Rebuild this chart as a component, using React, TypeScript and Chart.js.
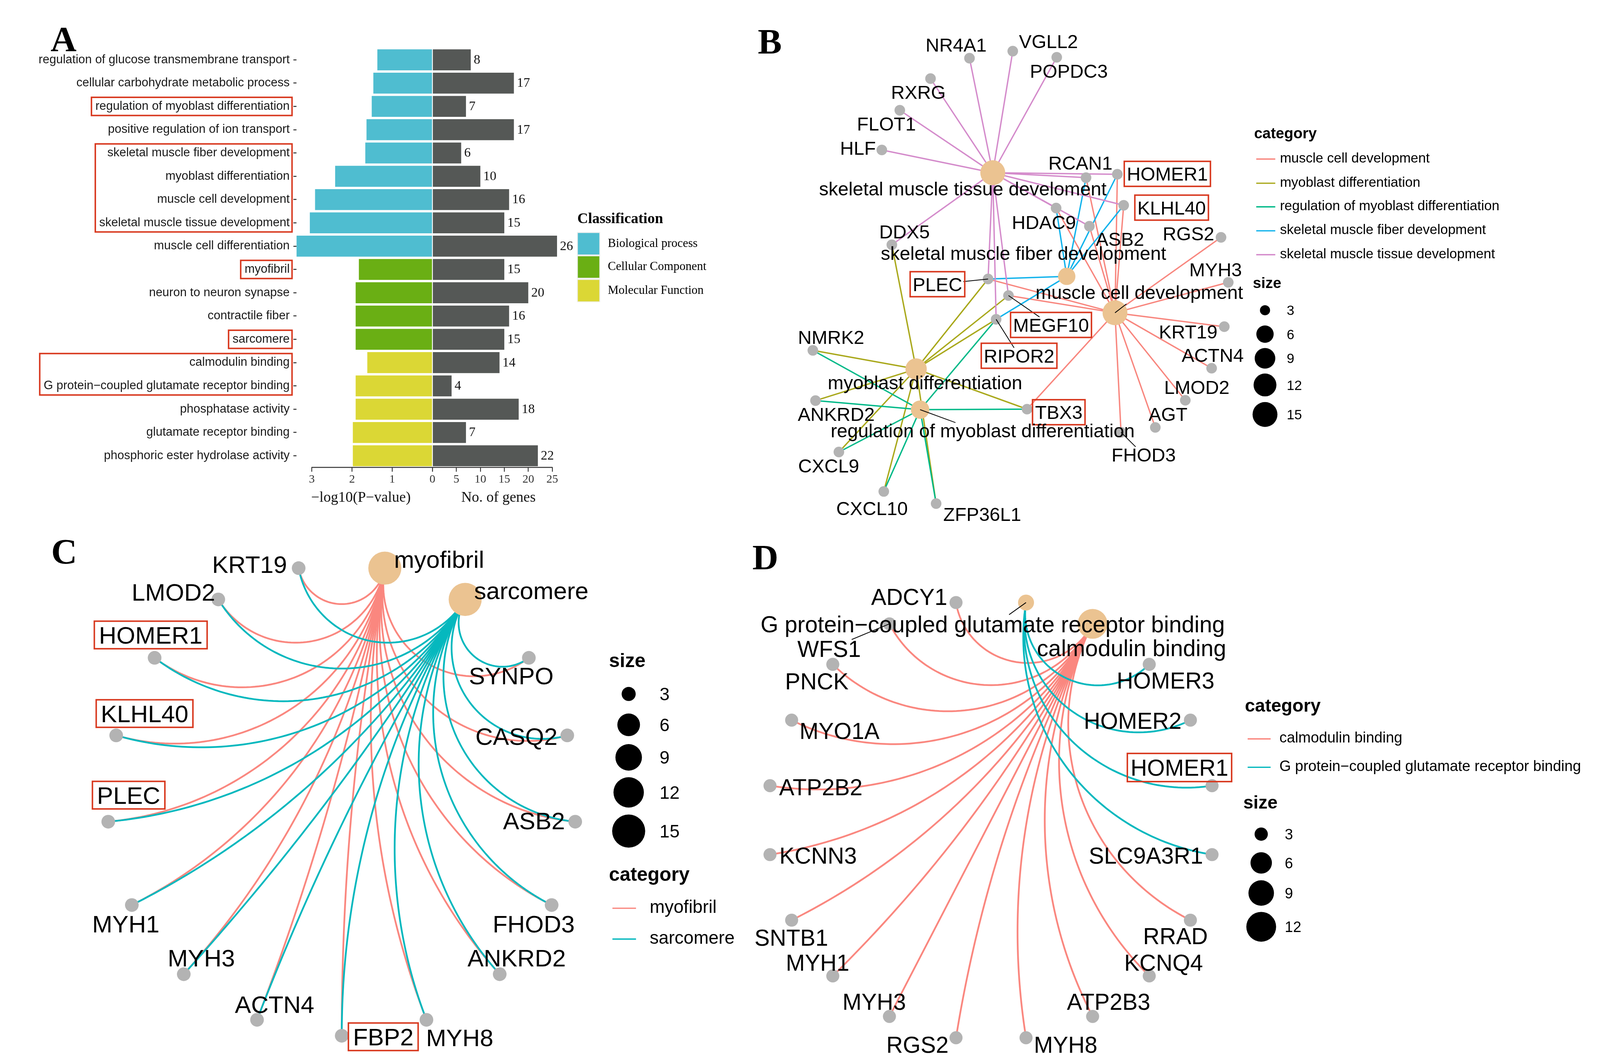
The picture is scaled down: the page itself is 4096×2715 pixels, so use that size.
import React, { useEffect, useRef } from 'react';
import { Chart, registerables } from 'chart.js';

Chart.register(...registerables);

/* ============================ DATA ============================ */

// ---- Panel A: GO enrichment (top to bottom) ----
const goTerms = [
  'regulation of glucose transmembrane transport',
  'cellular carbohydrate metabolic process',
  'regulation of myoblast differentiation',
  'positive regulation of ion transport',
  'skeletal muscle fiber development',
  'myoblast differentiation',
  'muscle cell development',
  'skeletal muscle tissue development',
  'muscle cell differentiation',
  'myofibril',
  'neuron to neuron synapse',
  'contractile fiber',
  'sarcomere',
  'calmodulin binding',
  'G protein\u2212coupled glutamate receptor binding',
  'phosphatase activity',
  'glutamate receptor binding',
  'phosphoric ester hydrolase activity',
];
const goClass = [0, 0, 0, 0, 0, 0, 0, 0, 0, 1, 1, 1, 1, 2, 2, 2, 2, 2];
const goLogP = [1.37, 1.47, 1.51, 1.64, 1.67, 2.42, 2.92, 3.05, 3.38, 1.83, 1.91, 1.91, 1.91, 1.62, 1.91, 1.91, 1.98, 1.98];
const goCount = [8, 17, 7, 17, 6, 10, 16, 15, 26, 15, 20, 16, 15, 14, 4, 18, 7, 22];
const classNames = ['Biological process', 'Cellular Component', 'Molecular Function'];
const boxedTermRanges = [[2, 2], [4, 7], [9, 9], [12, 12], [13, 14]];
const logPTicks = [0, 1, 2, 3];
const countTicks = [0, 5, 10, 15, 20, 25];

// ---- Panel B: gene-concept network (layout coordinates) ----
const bGenes = ['NR4A1', 'VGLL2', 'POPDC3', 'RXRG', 'FLOT1', 'HLF', 'RCAN1', 'HOMER1', 'KLHL40', 'HDAC9', 'ASB2', 'RGS2', 'DDX5', 'PLEC', 'MYH3', 'MEGF10', 'RIPOR2', 'KRT19', 'NMRK2', 'ACTN4', 'LMOD2', 'ANKRD2', 'TBX3', 'AGT', 'FHOD3', 'CXCL9', 'CXCL10', 'ZFP36L1'];
const bGeneX = [950.1, 992.5, 1035.6, 911.9, 881.8, 864.2, 1064.3, 1095, 1101.2, 1035, 1067.6, 1196.6, 874, 968.3, 1203.7, 988.3, 976.2, 1199.8, 796.6, 1187.4, 1161.6, 799.2, 1006.5, 1132.2, 1098.6, 822.1, 866.1, 917.4];
const bGeneY = [57, 50.1, 56.1, 77, 108, 146.9, 174, 170.7, 201.1, 203.8, 221.6, 232.5, 239.8, 273.3, 276.6, 289.5, 312.8, 320, 343.2, 360.7, 392.1, 392.4, 400.8, 418.7, 423.5, 442.8, 481.4, 493.3];
const bCategories = ['muscle cell development', 'myoblast differentiation', 'regulation of myoblast differentiation', 'skeletal muscle fiber development', 'skeletal muscle tissue development'];
const bCategoryNodeLabels = ['muscle cell development', 'myoblast differentiation', 'regulation of myoblast differentiation', 'skeletal muscle fiber development', 'skeletal muscle tissue develoment'];
const bCategorySizes = [16, 10, 7, 6, 15];
const bCategoryX = [1092.7, 897.8, 901.7, 1045.4, 972.9];
const bCategoryY = [306.4, 361.5, 401.3, 270.7, 169.2];
const bMuscleCellDevGenes = ['RGS2', 'MYH3', 'KRT19', 'ACTN4', 'LMOD2', 'AGT', 'FHOD3', 'TBX3', 'PLEC', 'MEGF10', 'RCAN1', 'HOMER1', 'KLHL40', 'HDAC9', 'ASB2'];
const bMyoblastDiffGenes = ['NMRK2', 'ANKRD2', 'TBX3', 'CXCL9', 'CXCL10', 'ZFP36L1', 'DDX5', 'PLEC', 'MEGF10', 'RIPOR2'];
const bRegMyoblastDiffGenes = ['NMRK2', 'ANKRD2', 'TBX3', 'CXCL9', 'CXCL10', 'ZFP36L1', 'RIPOR2'];
const bFiberDevGenes = ['PLEC', 'RCAN1', 'HOMER1', 'KLHL40', 'HDAC9', 'RIPOR2'];
const bTissueDevGenes = ['NR4A1', 'VGLL2', 'POPDC3', 'RXRG', 'FLOT1', 'HLF', 'RCAN1', 'HOMER1', 'KLHL40', 'HDAC9', 'ASB2', 'DDX5', 'PLEC', 'RIPOR2', 'MEGF10'];
const bBoxed = ['HOMER1', 'KLHL40', 'PLEC', 'MEGF10', 'RIPOR2', 'TBX3'];
const bLegendSizes = [3, 6, 9, 12, 15];

// ---- Panel C: circular network (node order around the circle) ----
const cNodes = ['myofibril', 'sarcomere', 'SYNPO', 'CASQ2', 'ASB2', 'FHOD3', 'ANKRD2', 'MYH8', 'FBP2', 'ACTN4', 'MYH3', 'MYH1', 'PLEC', 'KLHL40', 'HOMER1', 'LMOD2', 'KRT19'];
const cCategories = ['myofibril', 'sarcomere'];
const cCategorySizes = [15, 15];
const cMyofibrilGenes = ['SYNPO', 'CASQ2', 'ASB2', 'FHOD3', 'ANKRD2', 'MYH8', 'FBP2', 'ACTN4', 'MYH3', 'MYH1', 'PLEC', 'KLHL40', 'HOMER1', 'LMOD2', 'KRT19'];
const cSarcomereGenes = ['SYNPO', 'CASQ2', 'ASB2', 'FHOD3', 'ANKRD2', 'MYH8', 'FBP2', 'ACTN4', 'MYH3', 'MYH1', 'PLEC', 'KLHL40', 'HOMER1', 'LMOD2', 'KRT19'];
const cBoxed = ['HOMER1', 'KLHL40', 'PLEC', 'FBP2'];
const cLegendSizes = [3, 6, 9, 12, 15];

// ---- Panel D: circular network ----
const dNodes = ['G protein\u2212coupled glutamate receptor binding', 'calmodulin binding', 'HOMER3', 'HOMER2', 'HOMER1', 'SLC9A3R1', 'RRAD', 'KCNQ4', 'ATP2B3', 'MYH8', 'RGS2', 'MYH3', 'MYH1', 'SNTB1', 'KCNN3', 'ATP2B2', 'MYO1A', 'PNCK', 'WFS1', 'ADCY1'];
const dCategories = ['calmodulin binding', 'G protein\u2212coupled glutamate receptor binding'];
const dCategorySizes = [14, 4];
const dCalmodulinGenes = ['ADCY1', 'WFS1', 'PNCK', 'MYO1A', 'ATP2B2', 'KCNN3', 'SNTB1', 'MYH1', 'MYH3', 'RGS2', 'MYH8', 'ATP2B3', 'KCNQ4', 'RRAD'];
const dGlutamateGenes = ['HOMER3', 'HOMER2', 'HOMER1', 'SLC9A3R1'];
const dBoxed = ['HOMER1'];
const dLegendSizes = [3, 6, 9, 12];

/* ============================ STYLE ============================ */

const K = 4096 / 1568; // preview px -> page px
const SANS = '"Liberation Sans", Arial, Helvetica, sans-serif';
const SERIF = '"Liberation Serif", "Times New Roman", Times, serif';
const BOX_RED = '#D8381E';
const GRAY = '#B3B3B3';
const BEIGE = '#EBC391';
const AXIS_COL = '#333333';
const CLASS_COLORS = ['#4FBDD0', '#6AAF14', '#DBD735'];
const COUNT_COLOR = '#555856';
const B_COLORS = ['#F8867E', '#A9A81B', '#00B988', '#12B3EC', '#D48BCB'];
const CD_COLORS = ['#FA877F', '#05B8BE'];
const B_EDGE_W = 3.5;
const CD_EDGE_W = 4.5;
const BOX_W = 3.8;

// label placement (repel output), preview px
const bGeneLabelX = [937, 1027.5, 1047.5, 900, 868.7, 840.8, 1058.8, 1144, 1148.2, 1023, 1097.5, 1164.7, 886.4, 918.7, 1191.3, 1030, 998.7, 1164.4, 814.5, 1188.4, 1172.9, 819.5, 1037.6, 1144.6, 1120.8, 812.1, 854.6, 962.6];
const bGeneLabelY = [44, 40.4, 69.4, 90.3, 121.3, 144.8, 159.5, 170.3, 203.4, 217.7, 234, 228.6, 226.7, 278.4, 263.9, 318.3, 348.5, 324.7, 330.4, 348, 379.2, 405.8, 403.8, 405.8, 445.5, 456, 498, 503.8];
const bCategoryLabelX = [1116.5, 906.5, 963, 1003, 943.5];
const bCategoryLabelY = [288, 376.6, 423.7, 249.7, 184.7];
const bLeaderGenes = ['PLEC', 'MEGF10', 'RIPOR2', 'FHOD3'];
const bLeaderCategories = ['muscle cell development', 'regulation of myoblast differentiation'];
const cLabelDX = [53.2, 64.8, -17.3, -49.8, -40.4, -17.6, 16.6, 32.6, 40.7, 17.2, 17.2, -5.9, 20, 27.8, -3.8, -44, -48.1];
const cLabelDY = [-6.5, -6.4, 17.6, 0.8, -1.2, 18.2, -16, 17.1, 1, -15.3, -16, 18.2, -26, -21.4, -22.4, -7.3, -4];
const dLabelDX = [-32.7, 38.2, 16, -56.6, -31.9, -64.8, -14.7, 14, 15.7, 38.8, -37.8, -14.9, -14.9, -0.3, 47.2, 49.8, 46.9, -15.7, -59.1, -45.9];
const dLabelDY = [23.4, 26.1, 15.7, 0.4, -17.8, 1, 15.4, -13.2, -14.4, 6.9, 6.9, -14.4, -13.2, 17, 1, 1.4, 10.4, 16.4, 24.5, -5.8];
const dLeaders = ['G protein\u2212coupled glutamate receptor binding', 'WFS1'];

// symbol sizes (preview px)
const bLegendRadii = [4.96, 8.5, 10.1, 11.2, 12.2];
const cLegendRadii = [6.9, 11.1, 13, 14.9, 16.2];
const dLegendRadii = [6.5, 10.5, 12.5, 14.6];

// canvases (page px)
const A_LW = 1140, A_H = 1320, A_TOP = 123.3, A_BOTTOM = 1196.1, A_ZERO = 1107, A_YAXIS_W = 758.7, A_XAXIS_H = 70;
const A_RX = 1107, A_RW = 800, A_RAREA_W = 337.4;
const Y_TICK_LEN = 7.6, Y_TICK_PAD = 9.5;
const B_CV = { left: 1900, top: 0, w: 2196, h: 1360 };
const C_CV = { left: 0, top: 1360, w: 1900, h: 1355 };
const D_CV = { left: 1900, top: 1360, w: 2196, h: 1355 };
const C_CENTER = [334.9, 783.6], C_RAD = [229.8, 231];
const D_CENTER = [971.2, 803.4], D_RAD = [219.3, 215.8];

/* ============================ HELPERS ============================ */

function sizeToRadius(s: number, sizes: number[], radii: number[]) {
  if (s <= sizes[0]) return radii[0];
  if (s >= sizes[sizes.length - 1]) return radii[radii.length - 1];
  for (let i = 1; i < sizes.length; i++) {
    if (s <= sizes[i]) {
      const t = (s - sizes[i - 1]) / (sizes[i] - sizes[i - 1]);
      return radii[i - 1] + t * (radii[i] - radii[i - 1]);
    }
  }
  return radii[radii.length - 1];
}

function circlePos(i: number, n: number) {
  const th = ((-90 + ((i + 0.5) * 360) / n) * Math.PI) / 180;
  return [Math.cos(th), -Math.sin(th)];
}

function geodesic(p: number[], q: number[], n = 72) {
  const a1 = Math.atan2(p[1], p[0]);
  let d = Math.atan2(q[1], q[0]) - a1;
  while (d > Math.PI) d -= 2 * Math.PI;
  while (d < -Math.PI) d += 2 * Math.PI;
  const h = Math.abs(d) / 2;
  if (Math.PI / 2 - h < 1e-3) return [p, q];
  const am = a1 + d / 2;
  const dist = 1 / Math.cos(h);
  const rho = Math.tan(h);
  const cx = Math.cos(am) * dist, cy = Math.sin(am) * dist;
  const f1 = Math.atan2(p[1] - cy, p[0] - cx);
  let df = Math.atan2(q[1] - cy, q[0] - cx) - f1;
  while (df > Math.PI) df -= 2 * Math.PI;
  while (df < -Math.PI) df += 2 * Math.PI;
  const out: number[][] = [];
  for (let i = 0; i <= n; i++) {
    const f = f1 + (df * i) / n;
    out.push([cx + rho * Math.cos(f), cy + rho * Math.sin(f)]);
  }
  return out;
}

function extentEm(text: string) {
  const asc = /[A-Z0-9bdfhiklt]/.test(text) ? 0.716 : 0.519;
  const desc = /[gjpqy]/.test(text) ? 0.21 : 0;
  return [asc, desc];
}

function rayBoxEntry(x0: number, y0: number, x1: number, y1: number, l: number, t: number, r: number, b: number) {
  if (x0 >= l && x0 <= r && y0 >= t && y0 <= b) return null;
  const dx = x1 - x0, dy = y1 - y0;
  let tmin = 0, tmax = 1;
  const axes = [[x0, dx, l, r], [y0, dy, t, b]];
  for (const [p, dd, lo, hi] of axes) {
    if (Math.abs(dd) < 1e-9) { if (p < lo || p > hi) return null; continue; }
    let ta = (lo - p) / dd, tb = (hi - p) / dd;
    if (ta > tb) { const tmp = ta; ta = tb; tb = tmp; }
    tmin = Math.max(tmin, ta); tmax = Math.min(tmax, tb);
  }
  if (tmin > tmax) return null;
  return [x0 + dx * tmin, y0 + dy * tmin];
}

function drawNetLabel(ctx: any, text: string, cx: number, cy: number, size: number, leaderFrom: number[] | null, box: any) {
  ctx.font = `${size}px ${SANS}`;
  const w = ctx.measureText(text).width;
  const [a, dsc] = extentEm(text);
  const base = cy + ((a - dsc) / 2) * size;
  const l = cx - w / 2, r = cx + w / 2, t = base - a * size, b = base + dsc * size;
  if (leaderFrom) {
    const e = rayBoxEntry(leaderFrom[0], leaderFrom[1], cx, cy, l - 3, t - 3, r + 3, b + 3);
    if (e) {
      ctx.strokeStyle = '#000';
      ctx.lineWidth = 2;
      ctx.beginPath();
      ctx.moveTo(leaderFrom[0], leaderFrom[1]);
      ctx.lineTo(e[0], e[1]);
      ctx.stroke();
    }
  }
  ctx.fillStyle = '#000';
  ctx.textAlign = 'center';
  ctx.textBaseline = 'alphabetic';
  ctx.fillText(text, cx, base);
  if (box) {
    ctx.strokeStyle = BOX_RED;
    ctx.lineWidth = BOX_W;
    ctx.strokeRect(l - box.padX, cy - box.h / 2, w + 2 * box.padX, box.h);
  }
}

function drawLeftText(ctx: any, text: string, x: number, cy: number, size: number, font = SANS) {
  ctx.font = `${size}px ${font}`;
  const [a, dsc] = extentEm(text);
  ctx.textAlign = 'left';
  ctx.textBaseline = 'alphabetic';
  ctx.fillStyle = '#000';
  ctx.fillText(text, x, cy + ((a - dsc) / 2) * size);
}

function drawTitle(ctx: any, text: string, x: number, baseline: number, size: number, font = SANS) {
  ctx.font = `bold ${size}px ${font}`;
  ctx.textAlign = 'left';
  ctx.textBaseline = 'alphabetic';
  ctx.fillStyle = '#000';
  ctx.fillText(text, x, baseline);
}

function drawLetter(ctx: any, letter: string, x: number, baseline: number) {
  drawTitle(ctx, letter, x, baseline, 92, SERIF);
}

function drawCategoryLegend(ctx: any, L: any, labels: string[], colors: string[]) {
  drawTitle(ctx, 'category', L.catTitle[0], L.catTitle[1], L.titleSize);
  labels.forEach((lab, i) => {
    ctx.strokeStyle = colors[i];
    ctx.lineWidth = 3.4;
    ctx.beginPath();
    ctx.moveTo(L.lineX[0], L.lineY[i]);
    ctx.lineTo(L.lineX[1], L.lineY[i]);
    ctx.stroke();
    drawLeftText(ctx, lab, L.textX, L.lineY[i], L.textSize);
  });
}

function drawSizeLegend(ctx: any, L: any, sizes: number[], radii: number[]) {
  drawTitle(ctx, 'size', L.sizeTitle[0], L.sizeTitle[1], L.titleSize);
  sizes.forEach((s, i) => {
    ctx.fillStyle = '#000';
    ctx.beginPath();
    ctx.arc(L.circX, L.circY[i], radii[i] * K, 0, Math.PI * 2);
    ctx.fill();
    drawLeftText(ctx, String(s), L.numX, L.circY[i], L.textSize);
  });
}

const B_LEG = { catTitle: [3210.4, 353.7], lineX: [3216, 3264.7], lineY: [407, 468.9, 529.2, 590.6, 651.7], textX: 3276.7, sizeTitle: [3207.3, 737.2], circX: 3238.4, circY: [793.9, 855, 916.9, 985.1, 1060.6], numX: 3294, titleSize: 38.5, textSize: 35 };
const C_LEG = { sizeTitle: [1559, 1707.4], circX: 1609.4, circY: [1775.8, 1854.7, 1938, 2027.6, 2126.6], numX: 1688.6, catTitle: [1559, 2253.8], lineX: [1567.8, 1628.2], lineY: [2324.1, 2403], textX: 1663.2, titleSize: 49.5, textSize: 46 };
const D_LEG = { catTitle: [3187, 1821.3], lineX: [3194, 3252.8], lineY: [1890.7, 1963.4], textX: 3275.2, sizeTitle: [3182.7, 2069.4], circX: 3228.7, circY: [2134.4, 2208.1, 2285.2, 2371.6], numX: 3289.1, titleSize: 46.5, textSize: 38 };

/* ============================ PANEL A ============================ */

const aLeftPlugin = {
  id: 'aLeftDecor',
  afterDraw(chart: any) {
    const { ctx, chartArea: ca } = chart;
    const xs = chart.scales.x, ys = chart.scales.y;
    ctx.save();
    ctx.strokeStyle = AXIS_COL;
    ctx.lineWidth = 2.5;
    ctx.beginPath();
    ctx.moveTo(xs.getPixelForValue(logPTicks[logPTicks.length - 1]) - 1, ca.bottom);
    ctx.lineTo(xs.getPixelForValue(0), ca.bottom);
    ctx.stroke();
    ctx.fillStyle = '#111';
    ctx.font = `37.5px ${SERIF}`;
    ctx.textAlign = 'center';
    ctx.textBaseline = 'middle';
    ctx.fillText('\u2212log10(P\u2212value)', 924, 1274);
    ctx.font = `31px ${SANS}`;
    const labelRight = ys.right - Y_TICK_LEN - Y_TICK_PAD;
    ctx.strokeStyle = BOX_RED;
    ctx.lineWidth = BOX_W;
    const half = ((A_BOTTOM - A_TOP) / goTerms.length) * 0.39;
    boxedTermRanges.forEach(([a, b]) => {
      let w = 0;
      for (let i = a; i <= b; i++) w = Math.max(w, ctx.measureText(goTerms[i]).width);
      const top = ys.getPixelForValue(a) - half;
      const bottom = ys.getPixelForValue(b) + half;
      const left = labelRight - w - 10;
      const right = labelRight + 6;
      ctx.strokeRect(left, top, right - left, bottom - top);
    });
    drawLetter(ctx, 'A', 129.5, 131);
    ctx.restore();
  },
};

const aRightPlugin = {
  id: 'aRightDecor',
  afterDraw(chart: any) {
    const { ctx, chartArea: ca } = chart;
    const xs = chart.scales.x, ys = chart.scales.y;
    ctx.save();
    ctx.strokeStyle = AXIS_COL;
    ctx.lineWidth = 2.5;
    ctx.beginPath();
    ctx.moveTo(xs.getPixelForValue(0), ca.bottom);
    ctx.lineTo(xs.getPixelForValue(countTicks[countTicks.length - 1]) + 1, ca.bottom);
    ctx.stroke();
    ctx.fillStyle = '#111';
    ctx.font = `33.5px ${SERIF}`;
    ctx.textAlign = 'left';
    ctx.textBaseline = 'middle';
    goCount.forEach((v, i) => {
      ctx.fillText(String(v), xs.getPixelForValue(v) + 7.6, ys.getPixelForValue(i) + 1);
    });
    ctx.font = `37.5px ${SERIF}`;
    ctx.textAlign = 'center';
    ctx.fillText('No. of genes', 1276 - A_RX, 1274);
    ctx.translate(-A_RX, 0);
    drawTitle(ctx, 'Classification', 1478, 571.4, 38, SERIF);
    const keyTops = [596.2, 655.8, 716.3];
    const textY = [623.6, 683.1, 743.7];
    classNames.forEach((name, i) => {
      ctx.fillStyle = '#EEEEEE';
      ctx.fillRect(1477, keyTops[i] - 2.5, 59.5, 59.5);
      ctx.fillStyle = CLASS_COLORS[i];
      ctx.fillRect(1479.3, keyTops[i], 55, 55);
      ctx.fillStyle = '#000';
      ctx.font = `31px ${SERIF}`;
      ctx.textAlign = 'left';
      ctx.textBaseline = 'middle';
      ctx.fillText(name, 1556, textY[i]);
    });
    ctx.restore();
  },
};

function configALeft(): any {
  return {
    type: 'bar',
    data: {
      labels: goTerms,
      datasets: [{ data: goLogP, backgroundColor: goClass.map((c) => CLASS_COLORS[c]), borderWidth: 0, categoryPercentage: 0.9, barPercentage: 1 }],
    },
    options: {
      indexAxis: 'y', responsive: false, animation: false, devicePixelRatio: 1, events: [],
      layout: { autoPadding: false, padding: { left: 0, right: A_LW - A_ZERO, top: A_TOP, bottom: A_H - A_BOTTOM - A_XAXIS_H } },
      plugins: { legend: { display: false }, tooltip: { enabled: false } },
      scales: {
        x: {
          type: 'linear', reverse: true, min: 0, max: 3.385,
          afterBuildTicks: (s: any) => { s.ticks = logPTicks.map((v) => ({ value: v })); },
          afterFit: (s: any) => { s.height = A_XAXIS_H; s.paddingLeft = 0; s.paddingRight = 0; },
          border: { display: false },
          grid: { drawOnChartArea: false, drawTicks: true, tickLength: 11, color: AXIS_COL, lineWidth: 2.2 },
          ticks: { font: { family: SERIF, size: 30 }, color: '#333', padding: 2, maxRotation: 0, autoSkip: false },
        },
        y: {
          type: 'category',
          afterFit: (s: any) => { s.width = A_YAXIS_W; s.paddingTop = 0; s.paddingBottom = 0; },
          border: { display: false },
          grid: { drawOnChartArea: false, drawTicks: true, tickLength: Y_TICK_LEN, color: AXIS_COL, lineWidth: 2.5, offset: false },
          ticks: { font: { family: SANS, size: 31 }, color: '#1a1a1a', padding: Y_TICK_PAD, autoSkip: false },
        },
      },
    },
    plugins: [aLeftPlugin],
  };
}

function configARight(): any {
  return {
    type: 'bar',
    data: {
      labels: goTerms,
      datasets: [{ data: goCount, backgroundColor: COUNT_COLOR, borderWidth: 0, categoryPercentage: 0.9, barPercentage: 1 }],
    },
    options: {
      indexAxis: 'y', responsive: false, animation: false, devicePixelRatio: 1, events: [],
      layout: { autoPadding: false, padding: { left: 0, right: A_RW - A_RAREA_W, top: A_TOP, bottom: A_H - A_BOTTOM - A_XAXIS_H } },
      plugins: { legend: { display: false }, tooltip: { enabled: false } },
      scales: {
        x: {
          type: 'linear', min: 0, max: 27.5,
          afterBuildTicks: (s: any) => { s.ticks = countTicks.map((v) => ({ value: v })); },
          afterFit: (s: any) => { s.height = A_XAXIS_H; s.paddingLeft = 0; s.paddingRight = 0; },
          border: { display: false },
          grid: { drawOnChartArea: false, drawTicks: true, tickLength: 11, color: AXIS_COL, lineWidth: 2.2 },
          ticks: {
            font: { family: SERIF, size: 30 }, color: '#333', padding: 2, maxRotation: 0, autoSkip: false,
            callback: (v: any) => (v === 0 ? '' : String(v)),
          },
        },
        y: { type: 'category', display: false },
      },
    },
    plugins: [aRightPlugin],
  };
}

/* ============================ NETWORKS ============================ */

function netConfig(o: any): any {
  return {
    type: 'scatter',
    data: {
      datasets: [
        { data: o.genePts, pointRadius: o.geneR, pointHoverRadius: o.geneR, pointBackgroundColor: GRAY, pointBorderWidth: 0 },
        { data: o.catPts, pointRadius: o.catR, pointHoverRadius: o.catR, pointBackgroundColor: BEIGE, pointBorderWidth: 0 },
      ],
    },
    options: {
      responsive: false, animation: false, devicePixelRatio: 1, events: [],
      layout: { autoPadding: false, padding: 0 },
      plugins: { legend: { display: false }, tooltip: { enabled: false } },
      scales: {
        x: { type: 'linear', display: false, min: o.xMin, max: o.xMax },
        y: { type: 'linear', display: false, min: o.yMin, max: o.yMax, reverse: o.yReverse },
      },
    },
    plugins: [{
      id: 'netDecor',
      beforeDatasetsDraw(chart: any) {
        const ctx = chart.ctx;
        ctx.save();
        ctx.translate(-o.cv.left, -o.cv.top);
        ctx.lineCap = 'round';
        o.drawEdges(chart, ctx);
        ctx.restore();
      },
      afterDatasetsDraw(chart: any) {
        const ctx = chart.ctx;
        ctx.save();
        ctx.translate(-o.cv.left, -o.cv.top);
        o.drawOverlay(chart, ctx);
        ctx.restore();
      },
    }],
  };
}

function pageOf(chart: any, cv: any, x: number, y: number) {
  return [chart.scales.x.getPixelForValue(x) + cv.left, chart.scales.y.getPixelForValue(y) + cv.top];
}

function strokePath(ctx: any, pts: number[][], color: string, width: number) {
  ctx.strokeStyle = color;
  ctx.lineWidth = width;
  ctx.beginPath();
  pts.forEach((p, i) => (i === 0 ? ctx.moveTo(p[0], p[1]) : ctx.lineTo(p[0], p[1])));
  ctx.stroke();
}

function configB(): any {
  const members = [bMuscleCellDevGenes, bMyoblastDiffGenes, bRegMyoblastDiffGenes, bFiberDevGenes, bTissueDevGenes];
  const cv = B_CV;
  return netConfig({
    cv,
    xMin: cv.left / K, xMax: (cv.left + cv.w) / K, yMin: cv.top / K, yMax: (cv.top + cv.h) / K, yReverse: true,
    genePts: bGenes.map((_, i) => ({ x: bGeneX[i], y: bGeneY[i] })),
    geneR: 5.2 * K,
    catPts: bCategories.map((_, i) => ({ x: bCategoryX[i], y: bCategoryY[i] })),
    catR: bCategorySizes.map((s) => sizeToRadius(s, bLegendSizes, bLegendRadii) * K),
    drawEdges: (chart: any, ctx: any) => {
      members.forEach((genes, c) => {
        const p0 = pageOf(chart, cv, bCategoryX[c], bCategoryY[c]);
        genes.forEach((g) => {
          const gi = bGenes.indexOf(g);
          strokePath(ctx, [p0, pageOf(chart, cv, bGeneX[gi], bGeneY[gi])], B_COLORS[c], B_EDGE_W);
        });
      });
    },
    drawOverlay: (chart: any, ctx: any) => {
      const size = 48.5;
      const box = { padX: 2.5 * K, h: 24.5 * K };
      bGenes.forEach((g, i) => {
        const [lx, ly] = pageOf(chart, cv, bGeneLabelX[i], bGeneLabelY[i]);
        const from = bLeaderGenes.includes(g) ? pageOf(chart, cv, bGeneX[i], bGeneY[i]) : null;
        drawNetLabel(ctx, g, lx, ly, size, from, bBoxed.includes(g) ? box : null);
      });
      bCategories.forEach((c, i) => {
        const [lx, ly] = pageOf(chart, cv, bCategoryLabelX[i], bCategoryLabelY[i]);
        const from = bLeaderCategories.includes(c) ? pageOf(chart, cv, bCategoryX[i], bCategoryY[i]) : null;
        drawNetLabel(ctx, bCategoryNodeLabels[i], lx, ly, size, from, null);
      });
      drawCategoryLegend(ctx, B_LEG, bCategories, B_COLORS);
      drawSizeLegend(ctx, B_LEG, bLegendSizes, bLegendRadii);
      drawLetter(ctx, 'B', 1940, 137);
    },
  });
}

function circularConfig(cv: any, center: number[], rad: number[], nodes: string[], categories: string[], catSizes: number[], memberLists: string[][], boxed: string[], dx: number[], dy: number[], leaders: string[], labelSize: number, box: any, geneR: number, legendSizes: number[], legendRadii: number[], drawLegends: (ctx: any) => void, letter: any[]) {
  const cxp = center[0] * K, cyp = center[1] * K, rxp = rad[0] * K, ryp = rad[1] * K;
  const pos = nodes.map((_, i) => circlePos(i, nodes.length));
  const geneIdx = nodes.map((n, i) => i).filter((i) => !categories.includes(nodes[i]));
  const catIdx = categories.map((c) => nodes.indexOf(c));
  return netConfig({
    cv,
    xMin: (cv.left - cxp) / rxp, xMax: (cv.left + cv.w - cxp) / rxp,
    yMin: (cyp - (cv.top + cv.h)) / ryp, yMax: (cyp - cv.top) / ryp, yReverse: false,
    genePts: geneIdx.map((i) => ({ x: pos[i][0], y: pos[i][1] })),
    geneR: geneR * K,
    catPts: catIdx.map((i) => ({ x: pos[i][0], y: pos[i][1] })),
    catR: catSizes.map((s) => sizeToRadius(s, legendSizes, legendRadii) * K),
    drawEdges: (chart: any, ctx: any) => {
      memberLists.forEach((genes, c) => {
        const p = pos[catIdx[c]];
        genes.forEach((g) => {
          const q = pos[nodes.indexOf(g)];
          const pts = geodesic(p, q).map((pt) => pageOf(chart, cv, pt[0], pt[1]));
          strokePath(ctx, pts, CD_COLORS[c], CD_EDGE_W);
        });
      });
    },
    drawOverlay: (chart: any, ctx: any) => {
      nodes.forEach((n, i) => {
        const np = pageOf(chart, cv, pos[i][0], pos[i][1]);
        const lx = np[0] + dx[i] * K, ly = np[1] + dy[i] * K;
        drawNetLabel(ctx, n, lx, ly, labelSize, leaders.includes(n) ? np : null, boxed.includes(n) ? box : null);
      });
      drawLegends(ctx);
      drawLetter(ctx, letter[0], letter[1], letter[2]);
    },
  });
}

function configC(): any {
  return circularConfig(
    C_CV, C_CENTER, C_RAD, cNodes, cCategories, cCategorySizes, [cMyofibrilGenes, cSarcomereGenes], cBoxed,
    cLabelDX, cLabelDY, [], 62, { padX: 4.5 * K, h: 27 * K }, 6.7, cLegendSizes, cLegendRadii,
    (ctx: any) => {
      drawSizeLegend(ctx, C_LEG, cLegendSizes, cLegendRadii);
      drawCategoryLegend(ctx, C_LEG, cCategories, CD_COLORS);
    },
    ['C', 131, 1442],
  );
}

function configD(): any {
  return circularConfig(
    D_CV, D_CENTER, D_RAD, dNodes, dCategories, dCategorySizes, [dCalmodulinGenes, dGlutamateGenes], dBoxed,
    dLabelDX, dLabelDY, dLeaders, 58.5, { padX: 3.2 * K, h: 27.6 * K }, 6.4, dLegendSizes, dLegendRadii,
    (ctx: any) => {
      drawCategoryLegend(ctx, D_LEG, dCategories, CD_COLORS);
      drawSizeLegend(ctx, D_LEG, dLegendSizes, dLegendRadii);
    },
    ['D', 1926, 1456.8],
  );
}

/* ============================ APP ============================ */

export default function App() {
  const aL = useRef<HTMLCanvasElement>(null);
  const aR = useRef<HTMLCanvasElement>(null);
  const b = useRef<HTMLCanvasElement>(null);
  const c = useRef<HTMLCanvasElement>(null);
  const d = useRef<HTMLCanvasElement>(null);

  useEffect(() => {
    const charts = [
      new Chart(aL.current as any, configALeft()),
      new Chart(aR.current as any, configARight()),
      new Chart(b.current as any, configB()),
      new Chart(c.current as any, configC()),
      new Chart(d.current as any, configD()),
    ];
    return () => charts.forEach((ch) => ch.destroy());
  }, []);

  const cs = (l: number, t: number, w: number, h: number): any => ({ position: 'absolute', left: l, top: t, width: w, height: h });

  return (
    <div style={{ position: 'absolute', left: 0, top: 0, width: 4096, height: 2715, background: '#ffffff', overflow: 'hidden' }}>
      <canvas ref={b} width={B_CV.w} height={B_CV.h} style={cs(B_CV.left, B_CV.top, B_CV.w, B_CV.h)} />
      <canvas ref={c} width={C_CV.w} height={C_CV.h} style={cs(C_CV.left, C_CV.top, C_CV.w, C_CV.h)} />
      <canvas ref={d} width={D_CV.w} height={D_CV.h} style={cs(D_CV.left, D_CV.top, D_CV.w, D_CV.h)} />
      <canvas ref={aR} width={A_RW} height={A_H} style={cs(A_RX, 0, A_RW, A_H)} />
      <canvas ref={aL} width={A_LW} height={A_H} style={cs(0, 0, A_LW, A_H)} />
    </div>
  );
}
